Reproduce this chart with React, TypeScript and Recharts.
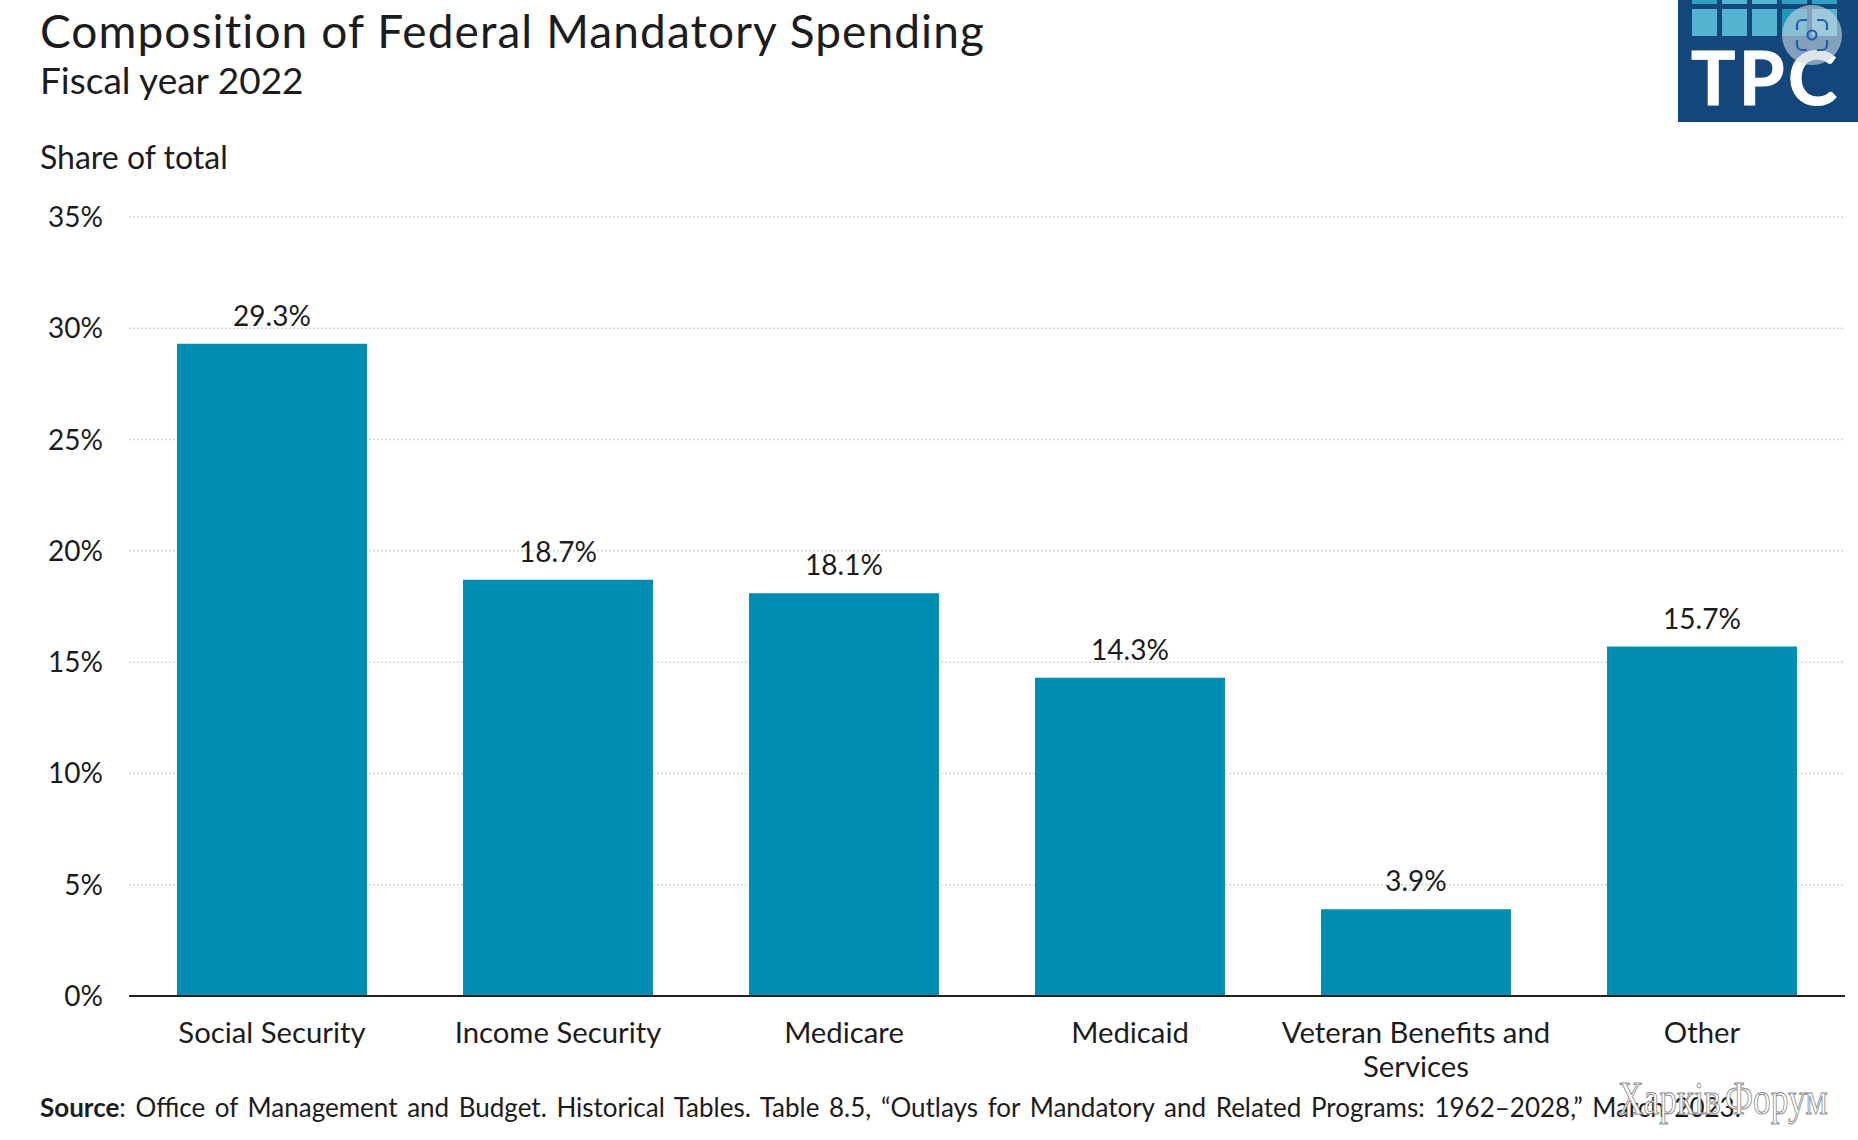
import { BarChart, Bar, CartesianGrid, LabelList, Text, XAxis, YAxis } from "recharts";

const categories = ["Social Security", "Income Security", "Medicare", "Medicaid", "Veteran Benefits and Services", "Other"];
const shares = [29.3, 18.7, 18.1, 14.3, 3.9, 15.7];
const yTicks = [0, 5, 10, 15, 20, 25, 30, 35];
const logoTopRow = ["#2f9fc4", "#55b4d2", "#55b4d2", "#2f9fc4", "#2f9fc4"];
const logoRow = ["#55b4d2", "#55b4d2", "#55b4d2", "#1f97bb", "#55b4d2"];

const FONT = "Lato, 'Open Sans', sans-serif";
const INK = "#1c1c1c";

const data = categories.map((name, i) => ({ name, share: shares[i] }));

// px string on purpose: Text measures words with this style when it wraps
function CategoryTick({ x, y, payload }: any) {
  return (
    <Text
      x={x}
      y={y}
      width={280}
      lineHeight={34}
      textAnchor="middle"
      verticalAnchor="start"
      style={{ fontFamily: FONT, fontSize: "29.3px" }}
      fill={INK}
    >
      {payload.value}
    </Text>
  );
}

function Logo() {
  return (
    <svg width={180} height={122} style={{ position: "absolute", left: 1678, top: 0 }}>
      <rect width={180} height={122} fill="#13477c" />
      {logoTopRow.map((c, i) => (
        <rect key={i} x={14 + i * 30} y={0} width={25} height={4} fill={c} />
      ))}
      {logoRow.map((c, i) => (
        <rect key={i} x={14 + i * 30} y={9} width={25} height={27} fill={c} />
      ))}
      <text x={13} y={105} fontFamily={FONT} fontWeight={700} fontSize={74} fill="#fff" stroke="#fff" strokeWidth={1} textLength={146} lengthAdjust="spacing">
        TPC
      </text>
      <circle cx={134} cy={35} r={30} fill="#c9d6e0" fillOpacity={0.62} />
      <g fill="none" stroke="#1f5fb5" strokeWidth={2.2}>
        <path d="M119 30v-5a5 5 0 0 1 5-5h5" />
        <path d="M139 20h5a5 5 0 0 1 5 5v5" />
        <path d="M149 40v5a5 5 0 0 1-5 5h-5" />
        <path d="M129 50h-5a5 5 0 0 1-5-5v-5" />
        <circle cx={134} cy={35} r={4.5} />
      </g>
    </svg>
  );
}

export default function App() {
  return (
    <div style={{ position: "absolute", left: 0, top: 0, width: 1858, height: 1140, background: "#fff", overflow: "hidden", fontFamily: FONT, color: INK }}>
      <div style={{ position: "absolute", left: 40, top: 2, fontSize: 46, lineHeight: "58px", whiteSpace: "nowrap", letterSpacing: 1.1 }}>
        Composition of Federal Mandatory Spending
      </div>
      <div style={{ position: "absolute", left: 40, top: 59, fontSize: 37, lineHeight: "42px", whiteSpace: "nowrap" }}>
        Fiscal year 2022
      </div>
      <div style={{ position: "absolute", left: 40, top: 139, fontSize: 32, lineHeight: "36px", whiteSpace: "nowrap" }}>
        Share of total
      </div>

      <BarChart
        width={1858}
        height={1140}
        data={data}
        margin={{ top: 217, right: 13, bottom: 0, left: 0 }}
        style={{ position: "absolute", left: 0, top: 0 }}
      >
        <CartesianGrid horizontal vertical={false} stroke="#d4d4d4" strokeDasharray="2 2" strokeWidth={1.5} />
        <XAxis
          dataKey="name"
          interval={0}
          axisLine={{ stroke: "#222", strokeWidth: 2 }}
          tickLine={false}
          tickMargin={20}
          height={144}
          tick={CategoryTick}
        />
        <YAxis
          width={129}
          domain={[0, 35]}
          ticks={yTicks}
          axisLine={false}
          tickLine={false}
          tickMargin={20}
          tickFormatter={(v: number) => `${v}%`}
          tick={{ fontFamily: FONT, fontSize: 28, fill: INK }}
        />
        <Bar dataKey="share" barSize={190} fill="#008db3" isAnimationActive={false}>
          <LabelList
            dataKey="share"
            position="top"
            offset={18}
            formatter={(v: number) => `${v.toFixed(1)}%`}
            style={{ fontFamily: FONT, fontSize: 28, fill: INK }}
          />
        </Bar>
      </BarChart>

      <div style={{ position: "absolute", left: 40, top: 1091, fontSize: 26, lineHeight: "32px", whiteSpace: "nowrap", wordSpacing: 3 }}>
        <b>Source</b>: Office of Management and Budget. Historical Tables. Table 8.5, “Outlays for Mandatory and Related Programs: 1962–2028,” March 2023.
      </div>
      <div
        style={{
          position: "absolute",
          left: 1618,
          top: 1073,
          fontFamily: "'Liberation Serif', serif",
          fontSize: 46,
          lineHeight: "52px",
          whiteSpace: "nowrap",
          wordSpacing: -6,
          color: "#fff",
          WebkitTextStroke: "1px #8a8a8a",
          transform: "scaleX(0.77)",
          transformOrigin: "left center",
        }}
      >
        Харків Форум
      </div>
      <Logo />
    </div>
  );
}
